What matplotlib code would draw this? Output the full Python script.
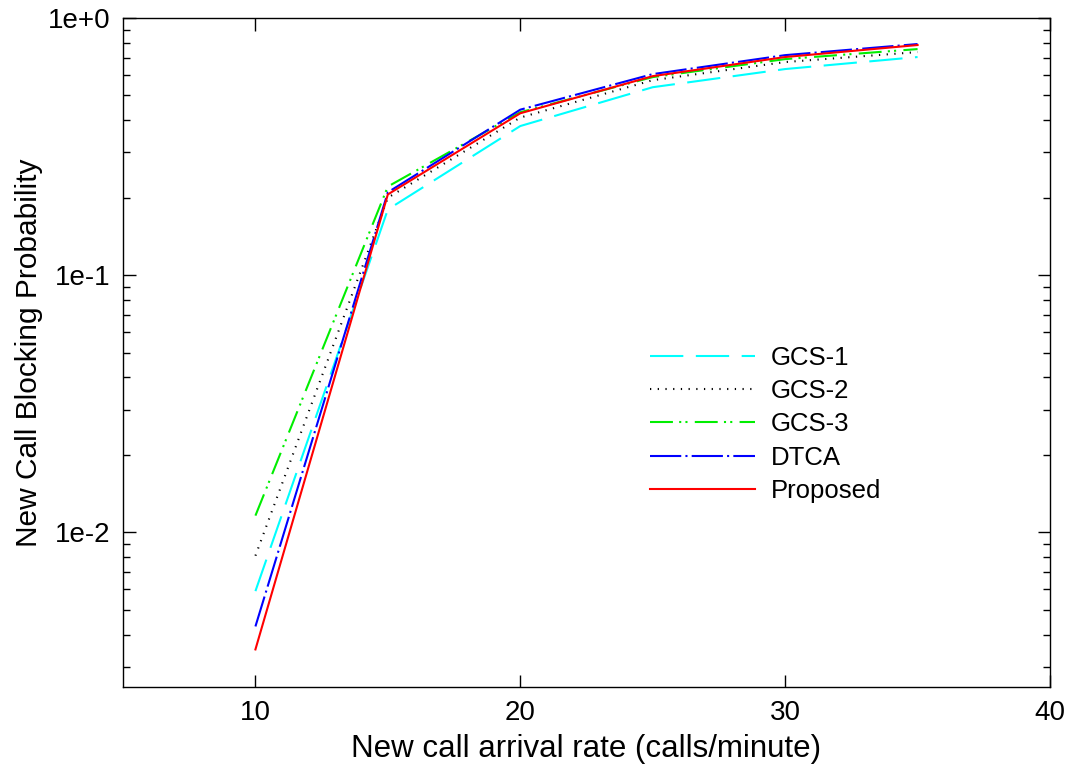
import numpy as np
import matplotlib.pyplot as plt
from matplotlib.ticker import LogLocator, NullFormatter, FixedLocator

plt.rcParams['font.family'] = ['Liberation Sans', 'DejaVu Sans']

# data
rate = [10, 15, 20, 25, 30, 35]
gcs1 = [0.0059, 0.180, 0.380, 0.538, 0.633, 0.705]
gcs2 = [0.0081, 0.200, 0.410, 0.573, 0.674, 0.737]
gcs3 = [0.0116, 0.221, 0.430, 0.589, 0.692, 0.757]
dtca = [0.0043, 0.210, 0.440, 0.605, 0.717, 0.792]
proposed = [0.0035, 0.206, 0.426, 0.594, 0.705, 0.785]

fig = plt.figure(figsize=(10.7, 7.69), dpi=100)
ax = fig.add_axes([123/1070, 1 - 687/769, (1050-123)/1070, (687-18)/769])

ax.plot(rate, gcs1, color='#00ffff', lw=1.5, dashes=(16, 6), label='GCS-1')
ax.plot(rate, gcs2, color='black', lw=1.5, dashes=(0.6, 3.1), label='GCS-2')
ax.plot(rate, gcs3, color='#00ee00', lw=1.5, dashes=(11, 3, 1, 2, 1, 3.5), label='GCS-3')
ax.plot(rate, dtca, color='#0000ff', lw=1.5, dashes=(15, 2, 1, 2), label='DTCA')
ax.plot(rate, proposed, color='#ff0000', lw=1.5, label='Proposed')

ax.set_yscale('log')
ax.set_xlim(5, 40)
ax.set_ylim(0.0025, 1)
ax.xaxis.set_major_locator(FixedLocator([10, 20, 30, 40]))
ax.yaxis.set_major_locator(FixedLocator([0.01, 0.1, 1]))
ax.set_yticklabels(['1e-2', '1e-1', '1e+0'])
ax.yaxis.set_minor_locator(LogLocator(base=10, subs=np.arange(2, 10)))
ax.yaxis.set_minor_formatter(NullFormatter())

ax.tick_params(which='both', direction='in', top=True, right=True, labelsize=20, width=1)
ax.tick_params(which='major', length=9, pad=9)
ax.tick_params(which='minor', length=5)
for s in ax.spines.values():
    s.set_linewidth(1)

ax.set_xlabel('New call arrival rate (calls/minute)', fontsize=22.5, labelpad=6)
ax.set_ylabel('New Call Blocking Probability', fontsize=21.5, labelpad=3.5)

ax.legend(loc='upper left', bbox_to_anchor=(0.5435, 0.5445), frameon=False, fontsize=18.5,
          handlelength=4.1, handletextpad=0.6, labelspacing=0.36)

fig.savefig('out.png', dpi=100)
